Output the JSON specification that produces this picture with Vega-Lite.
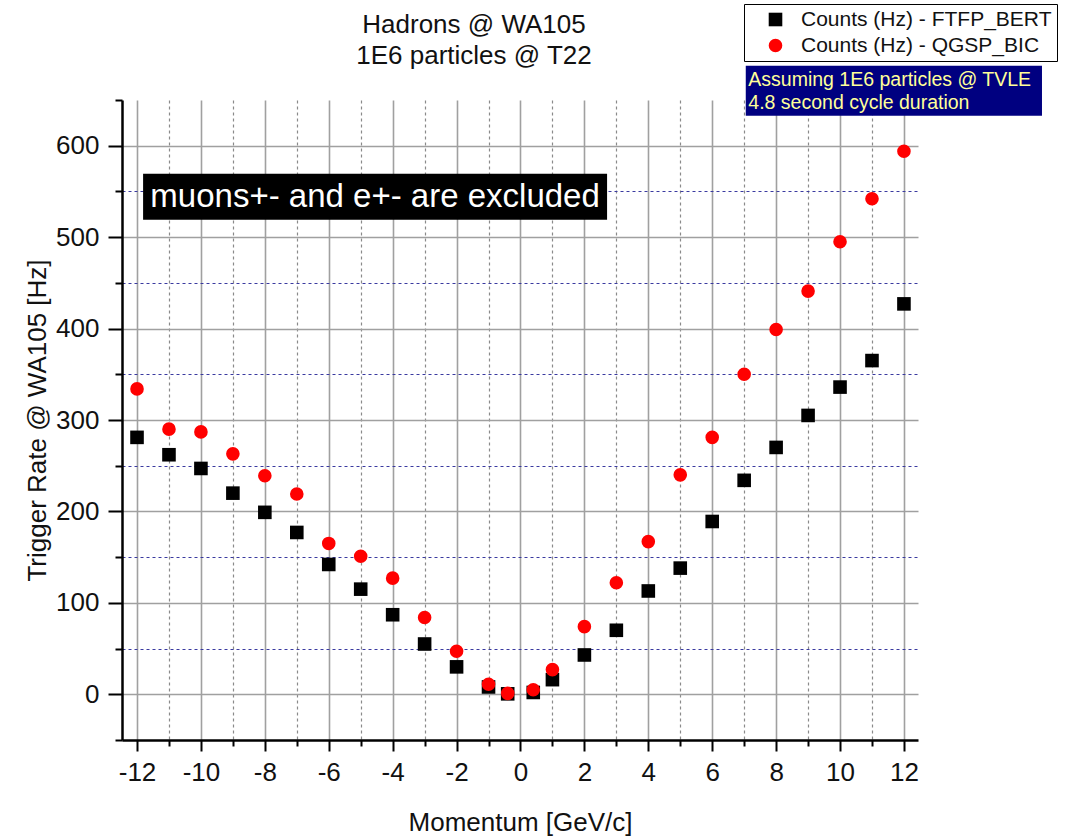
{
  "$schema": "https://vega.github.io/schema/vega-lite/v6.json",
  "width": 796,
  "height": 640,
  "autosize": {"type": "none"},
  "padding": {"left": 122, "top": 100, "right": 161, "bottom": 96},
  "background": "white",
  "config": {
    "font": "Liberation Sans",
    "view": {"stroke": null},
    "axis": {"labelFont": "Liberation Sans", "titleFont": "Liberation Sans"}
  },
  "datasets": {
    "rates": [
      {"p": -12, "rate": 281, "model": "Counts (Hz) - FTFP_BERT"},
      {"p": -11, "rate": 262, "model": "Counts (Hz) - FTFP_BERT"},
      {"p": -10, "rate": 247, "model": "Counts (Hz) - FTFP_BERT"},
      {"p": -9, "rate": 220, "model": "Counts (Hz) - FTFP_BERT"},
      {"p": -8, "rate": 199, "model": "Counts (Hz) - FTFP_BERT"},
      {"p": -7, "rate": 177, "model": "Counts (Hz) - FTFP_BERT"},
      {"p": -6, "rate": 142, "model": "Counts (Hz) - FTFP_BERT"},
      {"p": -5, "rate": 115, "model": "Counts (Hz) - FTFP_BERT"},
      {"p": -4, "rate": 87, "model": "Counts (Hz) - FTFP_BERT"},
      {"p": -3, "rate": 55, "model": "Counts (Hz) - FTFP_BERT"},
      {"p": -2, "rate": 30, "model": "Counts (Hz) - FTFP_BERT"},
      {"p": -1, "rate": 8, "model": "Counts (Hz) - FTFP_BERT"},
      {"p": -0.4, "rate": 0.5, "model": "Counts (Hz) - FTFP_BERT"},
      {"p": 0.4, "rate": 2, "model": "Counts (Hz) - FTFP_BERT"},
      {"p": 1, "rate": 16, "model": "Counts (Hz) - FTFP_BERT"},
      {"p": 2, "rate": 43, "model": "Counts (Hz) - FTFP_BERT"},
      {"p": 3, "rate": 70, "model": "Counts (Hz) - FTFP_BERT"},
      {"p": 4, "rate": 113, "model": "Counts (Hz) - FTFP_BERT"},
      {"p": 5, "rate": 138, "model": "Counts (Hz) - FTFP_BERT"},
      {"p": 6, "rate": 189, "model": "Counts (Hz) - FTFP_BERT"},
      {"p": 7, "rate": 234, "model": "Counts (Hz) - FTFP_BERT"},
      {"p": 8, "rate": 270, "model": "Counts (Hz) - FTFP_BERT"},
      {"p": 9, "rate": 305, "model": "Counts (Hz) - FTFP_BERT"},
      {"p": 10, "rate": 336, "model": "Counts (Hz) - FTFP_BERT"},
      {"p": 11, "rate": 365, "model": "Counts (Hz) - FTFP_BERT"},
      {"p": 12, "rate": 427, "model": "Counts (Hz) - FTFP_BERT"},
      {"p": -12, "rate": 334, "model": "Counts (Hz) - QGSP_BIC"},
      {"p": -11, "rate": 290, "model": "Counts (Hz) - QGSP_BIC"},
      {"p": -10, "rate": 287, "model": "Counts (Hz) - QGSP_BIC"},
      {"p": -9, "rate": 263, "model": "Counts (Hz) - QGSP_BIC"},
      {"p": -8, "rate": 239, "model": "Counts (Hz) - QGSP_BIC"},
      {"p": -7, "rate": 219, "model": "Counts (Hz) - QGSP_BIC"},
      {"p": -6, "rate": 165, "model": "Counts (Hz) - QGSP_BIC"},
      {"p": -5, "rate": 151, "model": "Counts (Hz) - QGSP_BIC"},
      {"p": -4, "rate": 127, "model": "Counts (Hz) - QGSP_BIC"},
      {"p": -3, "rate": 84, "model": "Counts (Hz) - QGSP_BIC"},
      {"p": -2, "rate": 47, "model": "Counts (Hz) - QGSP_BIC"},
      {"p": -1, "rate": 11, "model": "Counts (Hz) - QGSP_BIC"},
      {"p": -0.4, "rate": 1, "model": "Counts (Hz) - QGSP_BIC"},
      {"p": 0.4, "rate": 5, "model": "Counts (Hz) - QGSP_BIC"},
      {"p": 1, "rate": 27, "model": "Counts (Hz) - QGSP_BIC"},
      {"p": 2, "rate": 74, "model": "Counts (Hz) - QGSP_BIC"},
      {"p": 3, "rate": 122, "model": "Counts (Hz) - QGSP_BIC"},
      {"p": 4, "rate": 167, "model": "Counts (Hz) - QGSP_BIC"},
      {"p": 5, "rate": 240, "model": "Counts (Hz) - QGSP_BIC"},
      {"p": 6, "rate": 281, "model": "Counts (Hz) - QGSP_BIC"},
      {"p": 7, "rate": 350, "model": "Counts (Hz) - QGSP_BIC"},
      {"p": 8, "rate": 399, "model": "Counts (Hz) - QGSP_BIC"},
      {"p": 9, "rate": 441, "model": "Counts (Hz) - QGSP_BIC"},
      {"p": 10, "rate": 495, "model": "Counts (Hz) - QGSP_BIC"},
      {"p": 11, "rate": 542, "model": "Counts (Hz) - QGSP_BIC"},
      {"p": 12, "rate": 594, "model": "Counts (Hz) - QGSP_BIC"}
    ],
    "one": [{}]
  },
  "layer": [
    {
      "data": {"name": "rates"},
      "mark": {"type": "point", "filled": true, "opacity": 1, "size": 185, "strokeWidth": 0},
      "encoding": {
        "x": {
          "field": "p",
          "type": "quantitative",
          "scale": {"domain": [-12.47, 12.44], "nice": false, "zero": false},
          "axis": {
            "title": "Momentum [GeV/c]",
            "titleFontSize": 26,
            "titleFontWeight": "normal",
            "titleColor": "#111",
            "titlePadding": 24,
            "tickCount": 60,
            "values": [-12, -11, -10, -9, -8, -7, -6, -5, -4, -3, -2, -1, 0, 1, 2, 3, 4, 5, 6, 7, 8, 9, 10, 11, 12],
            "labelExpr": "datum.value % 2 === 0 ? toString(datum.value) : ''",
            "labelFontSize": 26,
            "labelColor": "#111",
            "labelPadding": 8,
            "labelFlush": false,
            "labelOverlap": false,
            "domainColor": "black",
            "domainWidth": 2.5,
            "tickColor": "black",
            "tickWidth": 2,
            "tickSize": {"condition": {"test": "abs(datum.value) % 2 == 1", "value": 6}, "value": 11},
            "grid": true,
            "gridColor": {"condition": {"test": "abs(datum.value) % 2 == 1", "value": "#8a8a8a"}, "value": "#a0a0a0"},
            "gridWidth": {"condition": {"test": "abs(datum.value) % 2 == 1", "value": 1.2}, "value": 1.6},
            "gridDash": {"condition": {"test": "abs(datum.value) % 2 == 1", "value": [3, 3]}, "value": []},
            "gridOpacity": 1
          }
        },
        "y": {
          "field": "rate",
          "type": "quantitative",
          "scale": {"domain": [-50, 650], "nice": false, "zero": false},
          "axis": {
            "title": "Trigger Rate @ WA105 [Hz]",
            "titleFontSize": 26,
            "titleFontWeight": "normal",
            "titleColor": "#111",
            "titlePadding": 5,
            "tickCount": 60,
            "values": [-50, 0, 50, 100, 150, 200, 250, 300, 350, 400, 450, 500, 550, 600, 650],
            "labelExpr": "(datum.value % 100 === 0 && datum.value >= 0 && datum.value <= 600) ? datum.label : ''",
            "labelFontSize": 26,
            "labelColor": "#111",
            "labelPadding": 9,
            "labelFlush": false,
            "labelOverlap": false,
            "domainColor": "black",
            "domainWidth": 2.5,
            "tickColor": "black",
            "tickWidth": 2,
            "tickSize": {"condition": {"test": "datum.value % 100 === 0", "value": 14}, "value": 7},
            "grid": true,
            "gridColor": {"condition": {"test": "datum.value % 100 === 0", "value": "#a0a0a0"}, "value": "#3a3aa0"},
            "gridWidth": {"condition": {"test": "datum.value % 100 === 0", "value": 1.6}, "value": 1.1},
            "gridDash": {"condition": {"test": "datum.value % 100 === 0", "value": []}, "value": [3, 3]},
            "gridOpacity": {"condition": {"test": "datum.value === 650 || datum.value === -50", "value": 0}, "value": 1}
          }
        },
        "color": {
          "field": "model",
          "type": "nominal",
          "scale": {"domain": ["Counts (Hz) - FTFP_BERT", "Counts (Hz) - QGSP_BIC"], "range": ["#000000", "#ff0000"]},
          "legend": {
            "title": null,
            "orient": "none",
            "legendX": 622,
            "legendY": -96,
            "strokeColor": "black",
            "fillColor": "white",
            "padding": 5,
            "symbolOffset": 16,
            "symbolSize": 185,
            "labelOffset": 15,
            "labelFontSize": 21,
            "labelFont": "Liberation Sans",
            "labelColor": "#111",
            "labelLimit": 400,
            "rowPadding": 4,
            "symbolStrokeWidth": 0
          }
        },
        "shape": {
          "field": "model",
          "type": "nominal",
          "scale": {"domain": ["Counts (Hz) - FTFP_BERT", "Counts (Hz) - QGSP_BIC"], "range": ["square", "circle"]},
          "legend": {
            "title": null,
            "orient": "none",
            "legendX": 622,
            "legendY": -96
          }
        }
      }
    },
    {
      "data": {"name": "one"},
      "mark": {"type": "rect", "fill": "black"},
      "encoding": {
        "x": {"datum": -11.81, "type": "quantitative"},
        "x2": {"datum": 2.71},
        "y": {"datum": 569.4, "type": "quantitative"},
        "y2": {"datum": 519.1}
      }
    },
    {
      "data": {"name": "one"},
      "mark": {"type": "text", "text": "muons+- and e+- are excluded", "color": "white", "fontSize": 33, "font": "Liberation Sans", "align": "center", "baseline": "middle"},
      "encoding": {
        "x": {"datum": -4.55, "type": "quantitative"},
        "y": {"datum": 544, "type": "quantitative"}
      }
    },
    {
      "data": {"name": "one"},
      "mark": {"type": "rect", "fill": "#000080", "clip": false},
      "encoding": {
        "x": {"datum": 7.05, "type": "quantitative"},
        "x2": {"datum": 16.32},
        "y": {"datum": 687.4, "type": "quantitative"},
        "y2": {"datum": 632.8}
      }
    },
    {
      "data": {"name": "one"},
      "mark": {"type": "text", "text": ["Assuming 1E6 particles @ TVLE", "4.8 second cycle duration"], "color": "#ffff99", "fontSize": 19.5, "font": "Liberation Sans", "align": "left", "baseline": "middle", "lineHeight": 23},
      "encoding": {
        "x": {"datum": 7.13, "type": "quantitative"},
        "y": {"datum": 672, "type": "quantitative"}
      }
    },
    {
      "data": {"name": "one"},
      "mark": {"type": "text", "text": ["Hadrons @ WA105", "1E6 particles @ T22"], "color": "#111", "fontSize": 26, "font": "Liberation Sans", "align": "center", "baseline": "alphabetic", "lineHeight": 31},
      "encoding": {
        "x": {"datum": -1.455, "type": "quantitative"},
        "y": {"datum": 723.5, "type": "quantitative"}
      }
    }
  ]
}
